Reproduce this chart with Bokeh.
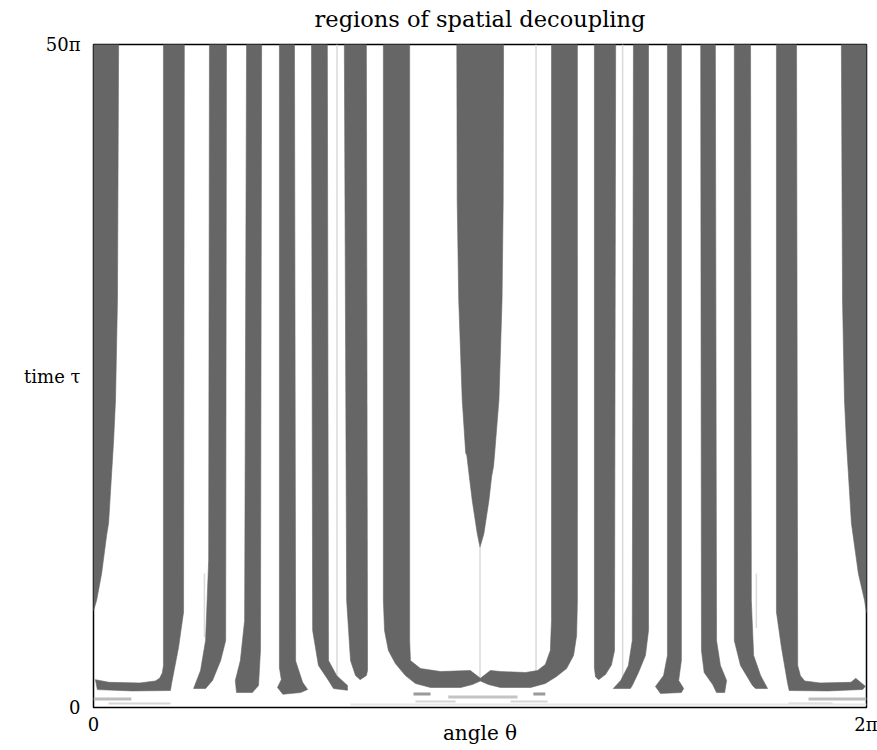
import numpy as np
from bokeh.plotting import figure
from bokeh.models import FixedTicker, Range1d, LinearAxis
from bokeh.embed import file_html
from bokeh.resources import INLINE

PI = np.pi

# ---- data: angle theta in units of pi, time tau in units of pi ----
BAND_01_THETA = [0.0, 0.065, 0.062, 0.057, 0.052, 0.039, 0.034, 0.021, 0.008, 0.0]
BAND_01_TAU = [50.0, 50.0, 30.7, 23.2, 20.1, 13.9, 13.0, 10.1, 8.07, 7.3]

BAND_02_THETA = [0.181, 0.181, 0.178, 0.171, 0.160, 0.120, 0.040, 0.005, 0.010, 0.100, 0.199, 0.202, 0.220, 0.233, 0.235]
BAND_02_TAU = [50.0, 3.17, 2.6, 2.2, 2.0, 1.85, 1.9, 2.1, 1.35, 1.25, 1.28, 1.81, 4.52, 7.2, 50.0]

BAND_03_THETA = [0.300, 0.298, 0.290, 0.277, 0.259, 0.290, 0.308, 0.329, 0.342, 0.344]
BAND_03_TAU = [50.0, 11.1, 5.05, 2.79, 1.43, 1.43, 2.04, 3.54, 5.05, 50.0]

BAND_04_THETA = [0.396, 0.391, 0.380, 0.367, 0.370, 0.411, 0.427, 0.432, 0.435]
BAND_04_TAU = [50.0, 6.56, 3.54, 2.04, 1.13, 1.13, 1.66, 4.30, 50.0]

BAND_05_THETA = [0.481, 0.481, 0.486, 0.476, 0.490, 0.536, 0.554, 0.541, 0.523, 0.520]
BAND_05_TAU = [50.0, 3.0, 2.1, 1.51, 1.0, 1.13, 1.36, 1.9, 3.5, 50.0]

BAND_06_THETA = [0.564, 0.567, 0.582, 0.608, 0.621, 0.657, 0.657, 0.629, 0.608, 0.605]
BAND_06_TAU = [50.0, 5.81, 3.17, 2.04, 1.43, 1.3, 1.66, 2.41, 3.54, 50.0]

BAND_07_THETA = [0.649, 0.655, 0.665, 0.678, 0.690, 0.706, 0.709, 0.706]
BAND_07_TAU = [50.0, 8.07, 3.54, 2.41, 2.1, 2.41, 2.79, 50.0]

BAND_08_10_THETA = [0.750, 0.750, 0.753, 0.763, 0.781, 0.807, 0.833, 0.872, 0.950, 0.980,
                    1.001, 1.022, 1.053, 1.131, 1.169, 1.198, 1.224, 1.242, 1.250, 1.252,
                    1.252, 1.185, 1.185, 1.182, 1.169, 1.149, 1.118, 1.053, 1.027, 1.001,
                    0.975, 0.898, 0.846, 0.820, 0.818, 0.818]
BAND_08_10_TAU = [50.0, 8.07, 5.81, 4.30, 3.32, 2.41, 1.81, 1.51, 1.51, 1.73,
                  2.0, 1.73, 1.51, 1.51, 1.81, 2.34, 2.94, 3.92, 5.43, 8.07,
                  50.0, 50.0, 6.56, 4.30, 3.24, 2.79, 2.64, 2.71, 2.79, 2.2,
                  2.79, 2.71, 2.94, 3.54, 5.05, 50.0]

BAND_09_THETA = [0.940, 0.941, 0.945, 0.954, 0.963, 0.966, 0.970, 0.980, 0.993, 1.000,
                 1.010, 1.023, 1.030, 1.035, 1.038, 1.049, 1.057, 1.060, 1.061]
BAND_09_TAU = [50.0, 38.2, 30.7, 23.2, 19.2, 19.0, 18.0, 15.6, 13.1, 12.1,
               13.1, 15.6, 17.4, 18.2, 19.2, 23.2, 30.7, 38.2, 50.0]

BAND_11_THETA = [1.296, 1.296, 1.299, 1.307, 1.325, 1.340, 1.348, 1.351]
BAND_11_TAU = [50.0, 3.0, 2.3, 2.1, 2.5, 3.2, 4.3, 50.0]

BAND_12_THETA = [1.397, 1.394, 1.384, 1.364, 1.345, 1.389, 1.394, 1.410, 1.428, 1.436, 1.436]
BAND_12_TAU = [50.0, 5.05, 3.17, 2.04, 1.43, 1.43, 1.66, 2.64, 3.92, 5.81, 50.0]

BAND_13_THETA = [1.485, 1.485, 1.475, 1.454, 1.467, 1.521, 1.527, 1.514, 1.521, 1.521]
BAND_13_TAU = [50.0, 3.92, 2.41, 1.58, 1.06, 1.13, 1.43, 2.04, 3.54, 50.0]

BAND_14_THETA = [1.571, 1.573, 1.580, 1.602, 1.612, 1.633, 1.638, 1.622, 1.612, 1.609]
BAND_14_TAU = [50.0, 4.30, 2.64, 1.73, 1.13, 1.13, 2.04, 3.17, 5.05, 50.0]

BAND_15_THETA = [1.658, 1.658, 1.674, 1.705, 1.713, 1.744, 1.726, 1.708, 1.702, 1.700]
BAND_15_TAU = [50.0, 5.05, 3.17, 1.66, 1.43, 1.43, 2.41, 3.92, 8.07, 50.0]

BAND_16_THETA = [1.767, 1.767, 1.780, 1.796, 1.800, 1.900, 1.990, 1.997, 1.972, 1.960,
                 1.880, 1.840, 1.829, 1.822, 1.819]
BAND_16_TAU = [50.0, 7.2, 4.52, 1.81, 1.28, 1.25, 1.36, 1.6, 2.2, 1.9,
               1.85, 2.0, 2.4, 3.17, 50.0]

BAND_17_THETA = [1.935, 1.938, 1.943, 1.948, 1.961, 1.979, 1.995, 2.0, 2.0]
BAND_17_TAU = [50.0, 30.7, 23.2, 20.1, 13.9, 10.1, 8.07, 7.16, 50.0]

# faint vertical traces
TRACE_THETA = [0.630, 1.145, 1.369, 1.000, 0.287, 1.715]
TRACE_TAU_TOP = [50.0, 50.0, 50.0, 12.1, 10.1, 10.1]
TRACE_TAU_BOTTOM = [2.0, 2.6, 2.0, 2.2, 5.3, 6.0]

# faint streaks near tau = 0
STREAK_THETA_LO = [0.0, 0.039, 0.828, 0.918, 0.833, 1.138, 1.079, 1.850, 1.798, 0.665]
STREAK_THETA_HI = [0.098, 0.199, 0.872, 1.097, 0.937, 1.169, 1.175, 2.0, 1.912, 2.0]
STREAK_TAU_LO = [0.53, 0.23, 0.90, 0.68, 0.38, 0.90, 0.38, 0.53, 0.23, 0.15]
STREAK_TAU_HI = [0.75, 0.38, 1.13, 0.90, 0.53, 1.13, 0.53, 0.75, 0.38, 0.30]
STREAK_SHADE = ["#bcbcbc", "#d6d6d6", "#9a9a9a", "#c4c4c4", "#d6d6d6",
                "#9a9a9a", "#d6d6d6", "#bcbcbc", "#d6d6d6", "#e8e8e8"]

X_TICKS = [0.0, 2.0]
X_TICK_LABELS = ["0", "2π"]
Y_TICKS = [0.0, 25.0, 50.0]
Y_TICK_LABELS = ["0", "time τ", "50π"]

TITLE = "regions of spatial decoupling"

BANDS = [
    (BAND_01_THETA, BAND_01_TAU), (BAND_02_THETA, BAND_02_TAU), (BAND_03_THETA, BAND_03_TAU),
    (BAND_04_THETA, BAND_04_TAU), (BAND_05_THETA, BAND_05_TAU), (BAND_06_THETA, BAND_06_TAU),
    (BAND_07_THETA, BAND_07_TAU), (BAND_08_10_THETA, BAND_08_10_TAU), (BAND_09_THETA, BAND_09_TAU),
    (BAND_11_THETA, BAND_11_TAU), (BAND_12_THETA, BAND_12_TAU), (BAND_13_THETA, BAND_13_TAU),
    (BAND_14_THETA, BAND_14_TAU), (BAND_15_THETA, BAND_15_TAU), (BAND_16_THETA, BAND_16_TAU),
    (BAND_17_THETA, BAND_17_TAU),
]

FONT = "DejaVu Serif"
DARK = "#666666"

p = figure(width=877, height=750,
           x_range=Range1d(0, 2 * PI), y_range=Range1d(0, 50 * PI),
           output_backend="svg", toolbar_location=None,
           min_border_left=93, min_border_right=11, min_border_top=44, min_border_bottom=43)

p.grid.visible = False
p.outline_line_color = "black"
p.outline_line_width = 1.5
p.background_fill_color = "white"

# streaks
p.quad(left=[v * PI for v in STREAK_THETA_LO], right=[v * PI for v in STREAK_THETA_HI],
       bottom=[v * PI for v in STREAK_TAU_LO], top=[v * PI for v in STREAK_TAU_HI],
       fill_color=STREAK_SHADE, line_color=None)

# faint traces
p.segment(x0=[v * PI for v in TRACE_THETA], y0=[v * PI for v in TRACE_TAU_BOTTOM],
          x1=[v * PI for v in TRACE_THETA], y1=[v * PI for v in TRACE_TAU_TOP],
          line_color="#dadada", line_width=1.5)

# decoupling regions
xs = [[v * PI for v in th] for th, ta in BANDS]
ys = [[v * PI for v in ta] for th, ta in BANDS]
p.patches(xs, ys, fill_color=DARK, line_color=DARK, line_width=0.6)

# axes
for ax, ticks, labels in ((p.xaxis, X_TICKS, X_TICK_LABELS), (p.yaxis, Y_TICKS, Y_TICK_LABELS)):
    vals = [t * PI for t in ticks]
    ax.ticker = FixedTicker(ticks=vals)
    ax.major_label_overrides = {v: l for v, l in zip(vals, labels)}
    ax.axis_line_color = None
    ax.major_tick_line_color = None
    ax.minor_tick_line_color = None
    ax.major_label_text_font = FONT
    ax.major_label_text_font_size = "18px"
    ax.major_label_text_color = "black"
p.xaxis.major_label_standoff = 0
p.yaxis.major_label_standoff = 7

p.xaxis.axis_label = "angle θ"
p.xaxis.axis_label_text_font = FONT
p.xaxis.axis_label_text_font_size = "20px"
p.xaxis.axis_label_text_font_style = "normal"
p.xaxis.axis_label_text_color = "black"
p.xaxis.axis_label_standoff = -17

# title carried by a tick-less axis above the frame
top_axis = LinearAxis(ticker=FixedTicker(ticks=[]), axis_label=TITLE,
                      axis_line_color=None, major_tick_line_color=None, minor_tick_line_color=None,
                      major_tick_out=0, major_tick_in=0, minor_tick_out=0, minor_tick_in=0,
                      major_label_standoff=0, axis_label_standoff=13,
                      axis_label_text_font=FONT, axis_label_text_font_size="22.5px",
                      axis_label_text_font_style="normal", axis_label_text_color="black")
p.add_layout(top_axis, "above")

open("out.html", "w").write(file_html(p, INLINE))
